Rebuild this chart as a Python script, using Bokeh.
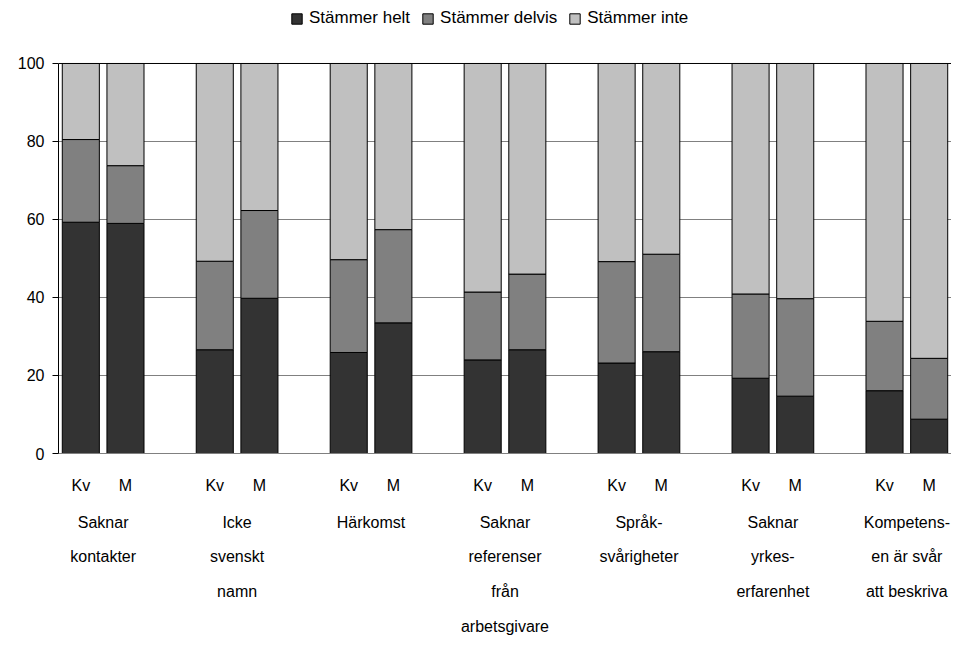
from bokeh.plotting import figure
from bokeh.models import (ColumnDataSource, FixedTicker, LinearAxis, Legend, LegendItem,
                          Range1d, Span)
from bokeh.embed import file_html
from bokeh.resources import INLINE

categories = ["Saknar\nkontakter", "Icke\nsvenskt\nnamn", "Härkomst",
              "Saknar\nreferenser\nfrån\narbetsgivare", "Språk-\nsvårigheter",
              "Saknar\nyrkes-\nerfarenhet", "Kompetens-\nen är svår\natt beskriva"]
sexes = ["Kv", "M"]
series = ["Stämmer helt", "Stämmer delvis", "Stämmer inte"]

helt_kv = [59.3, 26.6, 25.9, 24.0, 23.2, 19.3, 16.1]
delvis_kv = [21.2, 22.7, 23.8, 17.4, 26.0, 21.6, 17.8]
inte_kv = [19.5, 50.7, 50.3, 58.6, 50.8, 59.1, 66.1]
helt_m = [59.0, 39.8, 33.5, 26.6, 26.1, 14.7, 8.8]
delvis_m = [14.8, 22.5, 23.9, 19.4, 25.0, 25.0, 15.6]
inte_m = [26.2, 37.7, 42.6, 54.0, 48.9, 60.3, 75.6]
y_ticks = [0, 20, 40, 60, 80, 100]

colors = ["#333333", "#808080", "#c0c0c0"]
FONT = "Liberation Sans"

xs, helt, delvis, inte, sexlab = [], [], [], [], []
for i in range(len(categories)):
    for j, (h, d, n) in enumerate([(helt_kv[i], delvis_kv[i], inte_kv[i]),
                                   (helt_m[i], delvis_m[i], inte_m[i])]):
        xs.append(3 * i + j)
        helt.append(h); delvis.append(d); inte.append(n)
        sexlab.append(sexes[j])

src = ColumnDataSource(dict(x=xs, helt=helt, delvis=delvis, inte=inte))

# frame extends above 100 to leave room for the legend inside it
p = figure(frame_width=893, frame_height=453, output_backend="svg", toolbar_location=None,
           x_range=Range1d(-0.5, 3 * len(categories) - 1.5), y_range=Range1d(0, 116.15),
           min_border_left=58, min_border_right=0, min_border_top=0, min_border_bottom=0)
p.xaxis.visible = False
p.xgrid.visible = False
p.outline_line_color = None

rs = p.vbar_stack(["helt", "delvis", "inte"], x="x", width=0.83, source=src,
                  fill_color=colors, line_color="black", line_width=1)

# y axis
p.yaxis.ticker = FixedTicker(ticks=y_ticks)
p.yaxis.bounds = (0, 100)
p.yaxis.axis_line_color = "black"
p.yaxis.major_tick_line_color = "black"
p.yaxis.major_tick_in = 0
p.yaxis.major_tick_out = 6
p.yaxis.minor_tick_line_color = None
p.yaxis.major_label_text_font = FONT
p.yaxis.major_label_text_font_size = "16px"
p.yaxis.major_label_text_color = "black"
p.yaxis.major_label_standoff = 8
p.ygrid.ticker = FixedTicker(ticks=[20, 40, 60, 80])
p.ygrid.grid_line_color = "#808080"
p.add_layout(Span(location=100, dimension="width", line_color="black", line_width=1))

# right frame edge (grey line, 0..100)
rax = LinearAxis(ticker=FixedTicker(ticks=[]), bounds=(0, 100),
                 axis_line_color="#a0a0a0", major_tick_line_color=None,
                 minor_tick_line_color=None, major_label_text_font_size="0px")
p.add_layout(rax, "right")

# x axis: Kv / M
ax1 = LinearAxis(ticker=FixedTicker(ticks=xs),
                 major_label_overrides={x: s for x, s in zip(xs, sexlab)})
ax1.axis_line_color = "#808080"
ax1.major_tick_line_color = None
ax1.minor_tick_line_color = None
ax1.major_label_standoff = 17
ax1.major_label_text_font = FONT
ax1.major_label_text_font_size = "16px"
ax1.major_label_text_color = "black"
p.add_layout(ax1, "below")

# x axis: categories
centers = [3 * i + 0.5 for i in range(len(categories))]
ax2 = LinearAxis(ticker=FixedTicker(ticks=centers),
                 major_label_overrides={c: s for c, s in zip(centers, categories)})
ax2.axis_line_color = None
ax2.major_tick_line_color = None
ax2.minor_tick_line_color = None
ax2.major_label_standoff = 11
ax2.major_label_text_font = FONT
ax2.major_label_text_font_size = "16px"
ax2.major_label_text_color = "black"
ax2.major_label_text_line_height = 2.05
p.add_layout(ax2, "below")

legend = Legend(items=[LegendItem(label=s, renderers=[r]) for s, r in zip(series, rs)],
                orientation="horizontal", location=(232, 425),
                glyph_width=13, glyph_height=13, label_standoff=6, spacing=11,
                label_text_font=FONT, label_text_font_size="17px",
                label_text_color="black",
                border_line_color=None, padding=0, margin=0,
                background_fill_alpha=0)
p.add_layout(legend, "center")

open("out.html", "w").write(file_html(p, INLINE))
